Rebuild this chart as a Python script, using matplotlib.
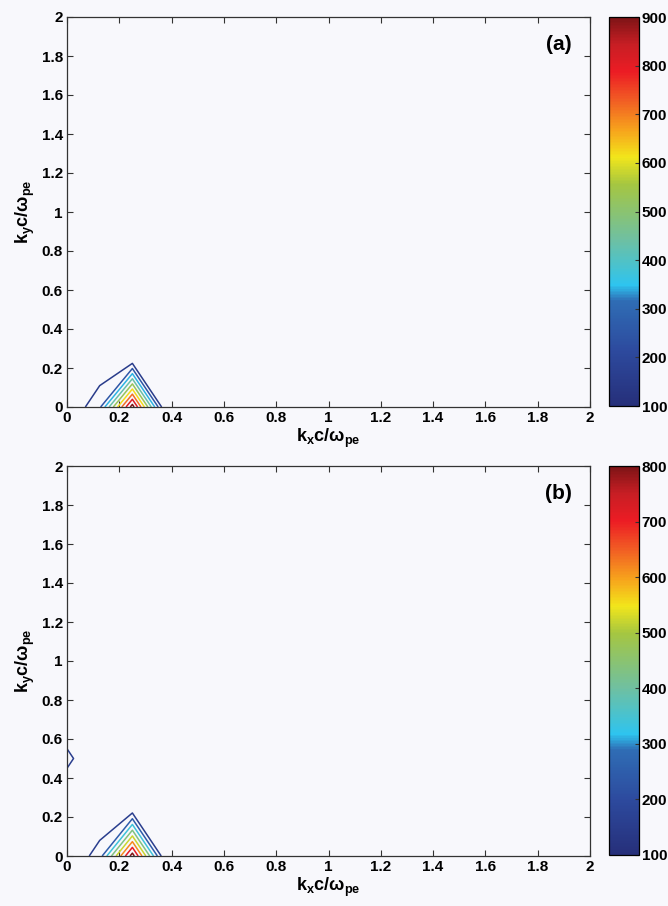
import numpy as np
import matplotlib.pyplot as plt
from matplotlib import cm, colors

plt.rcParams['font.family'] = ['Liberation Sans', 'DejaVu Sans']
plt.rcParams['mathtext.fontset'] = 'custom'
plt.rcParams['mathtext.rm'] = 'Liberation Sans:bold'
plt.rcParams['mathtext.it'] = 'Liberation Sans:bold'
plt.rcParams['mathtext.bf'] = 'Liberation Sans:bold'

# grid of wavenumbers
kx = np.linspace(0, 2, 17)   # step 0.125
ky = np.linspace(0, 2, 9)    # step 0.25

# nonzero grid values (everything else is zero)
# panel (a): values along ky = 0 at kx = 0, 0.125, 0.25, 0.375
a_row0 = [0, 178, 950, 0]
# panel (b)
b_row0 = [0, 147, 850, 0]
b_edge_val = 125          # at kx = 0, ky = 0.5

levels_a = [100, 200, 300, 400, 500, 600, 700, 800, 900]
levels_b = [100, 200, 300, 400, 500, 600, 700, 800]
cticks_a = [100, 200, 300, 400, 500, 600, 700, 800, 900]
cticks_b = [100, 200, 300, 400, 500, 600, 700, 800]

Za = np.zeros((len(ky), len(kx)))
Za[0, :4] = a_row0
Zb = np.zeros((len(ky), len(kx)))
Zb[0, :4] = b_row0
Zb[2, 0] = b_edge_val

# muted (printed) jet
jet_print = colors.LinearSegmentedColormap.from_list('jet_print', [
    (0.00, '#262f7a'), (0.14, '#2d4a9e'), (0.27, '#2f6db5'), (0.31, '#2ec4ef'),
    (0.43, '#70c0a0'), (0.57, '#a5c641'), (0.64, '#f2e61b'), (0.71, '#f7a31c'),
    (0.79, '#f15a24'), (0.86, '#ec1c24'), (0.93, '#c81e24'), (1.00, '#7e1416')])

bg = '#f8f8fc'
fig = plt.figure(figsize=(6.68, 9.06), dpi=100, facecolor=bg)
W, H = 668, 906

def panel(top, Z, levels, cticks, tag):
    ax = fig.add_axes([67 / W, 1 - (top + 390) / H, 523 / W, 390 / H], facecolor=bg)
    cax = fig.add_axes([609 / W, 1 - (top + 389) / H, 30 / W, 389 / H])
    norm = colors.Normalize(levels[0], levels[-1])
    line_norm = colors.Normalize(levels[0] - 60, levels[-1])
    ax.contour(kx, ky, Z, levels=levels, cmap=jet_print, norm=line_norm, linewidths=1.1)
    ax.set_xlim(0, 2)
    ax.set_ylim(0, 2)
    ticks = [0, 0.2, 0.4, 0.6, 0.8, 1, 1.2, 1.4, 1.6, 1.8, 2]
    labels = ['0', '0.2', '0.4', '0.6', '0.8', '1', '1.2', '1.4', '1.6', '1.8', '2']
    ax.set_xticks(ticks, labels)
    ax.set_yticks(ticks, labels)
    ax.tick_params(direction='in', top=True, right=True, length=4, width=0.8,
                   labelsize=11, color='#333333', pad=3)
    for t in ax.get_xticklabels() + ax.get_yticklabels():
        t.set_fontweight('bold')
    for s in ax.spines.values():
        s.set_linewidth(0.9)
        s.set_color('#333333')
    ax.set_xlabel(r'$\mathrm{k_xc/\omega_{pe}}$', fontsize=13, labelpad=1)
    ax.set_ylabel(r'$\mathrm{k_yc/\omega_{pe}}$', fontsize=13, labelpad=3)
    ax.text(0.965, 0.93, tag, transform=ax.transAxes, ha='right', va='center',
            fontsize=15, fontweight='bold')
    sm = cm.ScalarMappable(norm=norm, cmap=jet_print)
    cb = fig.colorbar(sm, cax=cax, ticks=cticks)
    cb.ax.tick_params(direction='in', length=3, labelsize=11, color='#333333', pad=2)
    for t in cb.ax.get_yticklabels():
        t.set_fontweight('bold')
    cb.outline.set_linewidth(0.9)

panel(17, Za, levels_a, cticks_a, '(a)')
panel(466, Zb, levels_b, cticks_b, '(b)')

fig.savefig('out.png', dpi=100, facecolor=bg)
